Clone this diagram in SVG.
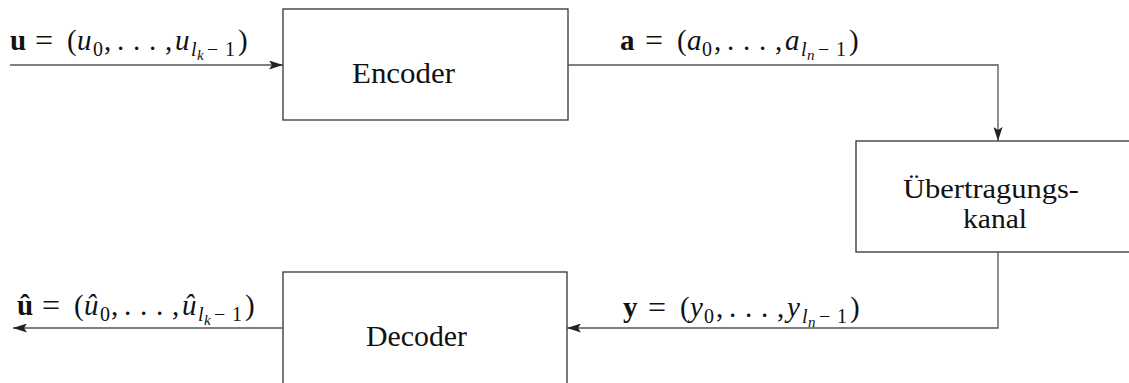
<svg xmlns="http://www.w3.org/2000/svg" width="1129" height="383" viewBox="0 0 1129 383">
<defs>
<marker id="ah" viewBox="0 0 14 9" refX="14" refY="4.5" markerWidth="14" markerHeight="9" markerUnits="userSpaceOnUse" orient="auto">
<path d="M0,0 L14,4.5 L0,9 L3,4.5 Z" fill="#222"/>
</marker>
<style>
.box{fill:#fff;stroke:#333;stroke-width:1.3}
.con{fill:none;stroke:#555;stroke-width:1.3}
text{font-family:"Liberation Serif","Times New Roman",serif;fill:#111}
.lbl{font-size:29px}
.k{font-size:27px}
.m{font-size:29px}
.b{font-weight:bold}
.i{font-style:italic}
.s{font-size:20px}
.ss{font-size:15px}
.eq{font-size:32px}
</style>
</defs>
<rect width="1129" height="383" fill="#fff"/>
<g id="encoder">
<rect class="box" x="283" y="9" width="285" height="111"/>
<text class="lbl" x="352" y="83" textLength="103" lengthAdjust="spacingAndGlyphs">Encoder</text>
</g>
<g id="kanal">
<rect class="box" x="856" y="141" width="300" height="111"/>
<text class="k" x="903" y="198" textLength="176" lengthAdjust="spacingAndGlyphs">Übertragungs-</text>
<text class="k" x="963" y="228" textLength="64" lengthAdjust="spacingAndGlyphs">kanal</text>
</g>
<g id="decoder">
<rect class="box" x="283" y="272" width="284" height="130"/>
<text class="lbl" x="366" y="346" textLength="101" lengthAdjust="spacingAndGlyphs">Decoder</text>
</g>
<g id="connectors">
<line class="con" x1="10" y1="65" x2="283" y2="65" marker-end="url(#ah)"/>
<path class="con" d="M568,65 H998 V141" marker-end="url(#ah)"/>
<path class="con" d="M998,252 V328 H567" marker-end="url(#ah)"/>
<line class="con" x1="283" y1="328" x2="13" y2="328" marker-end="url(#ah)"/>
</g>
<g id="label-u" class="m">
<text x="10" y="50" class="b">u</text>
<text x="35" y="51" class="eq">=</text>
<text x="67" y="50">(</text>
<text x="77" y="50" class="i">u</text>
<text x="93" y="56" class="s">0</text>
<text x="104" y="50">,</text>
<text x="117" y="50">.</text>
<text x="133" y="50">.</text>
<text x="149" y="50">.</text>
<text x="165" y="50">,</text>
<text x="175" y="50" class="i">u</text>
<text x="191" y="56" class="s i">l</text>
<text x="197" y="60" class="ss i">k</text>
<text x="207" y="56" class="s">−</text>
<text x="225" y="56" class="s">1</text>
<text x="238" y="50">)</text>
</g>
<g id="label-a" class="m">
<text x="620" y="50" class="b">a</text>
<text x="645" y="51" class="eq">=</text>
<text x="677" y="50">(</text>
<text x="687" y="50" class="i">a</text>
<text x="702" y="56" class="s">0</text>
<text x="714" y="50">,</text>
<text x="727" y="50">.</text>
<text x="743" y="50">.</text>
<text x="759" y="50">.</text>
<text x="775" y="50">,</text>
<text x="785" y="50" class="i">a</text>
<text x="801" y="56" class="s i">l</text>
<text x="807" y="60" class="ss i">n</text>
<text x="818" y="56" class="s">−</text>
<text x="836" y="56" class="s">1</text>
<text x="849" y="50">)</text>
</g>
<g id="label-y" class="m">
<text x="623" y="317" class="b">y</text>
<text x="648" y="318" class="eq">=</text>
<text x="680" y="317">(</text>
<text x="690" y="317" class="i">y</text>
<text x="704" y="323" class="s">0</text>
<text x="716" y="317">,</text>
<text x="729" y="317">.</text>
<text x="745" y="317">.</text>
<text x="761" y="317">.</text>
<text x="777" y="317">,</text>
<text x="787" y="317" class="i">y</text>
<text x="802" y="323" class="s i">l</text>
<text x="808" y="327" class="ss i">n</text>
<text x="819" y="323" class="s">−</text>
<text x="837" y="323" class="s">1</text>
<text x="850" y="317">)</text>
</g>
<g id="label-uhat" class="m">
<text x="17" y="315" class="b">û</text>
<text x="42" y="316" class="eq">=</text>
<text x="74" y="315">(</text>
<text x="84" y="315" class="i">û</text>
<text x="100" y="321" class="s">0</text>
<text x="111" y="315">,</text>
<text x="124" y="315">.</text>
<text x="140" y="315">.</text>
<text x="156" y="315">.</text>
<text x="172" y="315">,</text>
<text x="182" y="315" class="i">û</text>
<text x="198" y="321" class="s i">l</text>
<text x="204" y="325" class="ss i">k</text>
<text x="214" y="321" class="s">−</text>
<text x="232" y="321" class="s">1</text>
<text x="245" y="315">)</text>
</g>
</svg>
